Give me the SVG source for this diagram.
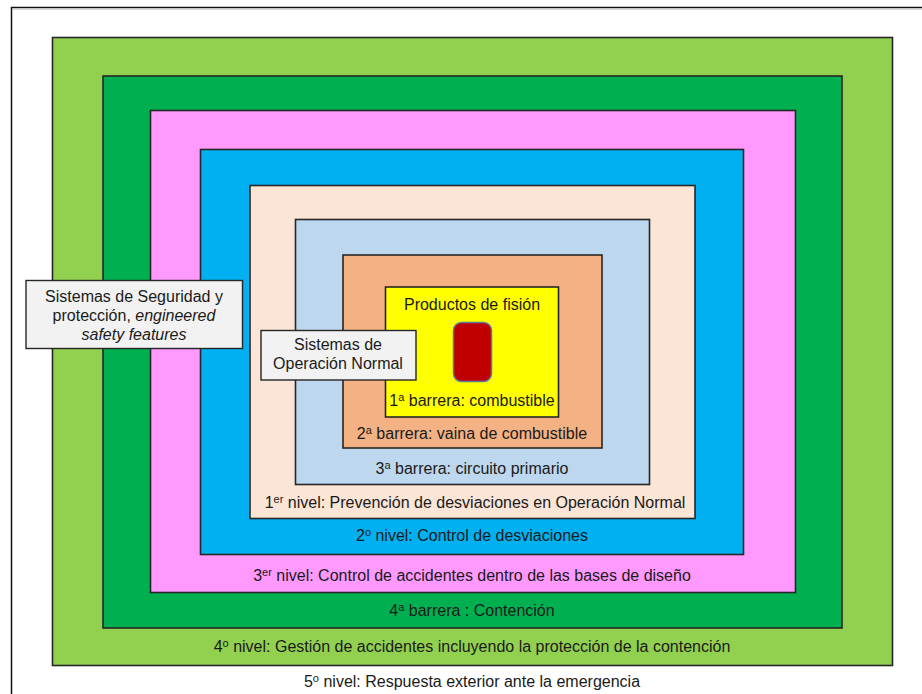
<svg xmlns="http://www.w3.org/2000/svg" width="922" height="694" viewBox="0 0 922 694">
  <style>
    .layer { stroke: #262626; stroke-width: 1.6; }
    .label { fill: #F2F2F2; stroke: #262626; stroke-width: 1.4; }
    text { font-family: "Liberation Sans", Arial, sans-serif; font-size: 16px; fill: #1a1a1a; }
    .c { text-anchor: middle; }
    .sup { font-size: 11px; }
  </style>
  <rect width="922" height="694" fill="#ffffff"/>

  <!-- outer frame -->
  <g id="frame" fill="none">
    <path d="M11.5 694 V7.5 H922" stroke="#111" stroke-width="1.5"/>
    <path d="M13 9.3 H922" stroke="#cfcfcf" stroke-width="1"/>
  </g>

  <!-- nested defence layers, outermost first -->
  <g id="nivel4">
    <rect class="layer" x="52.5" y="37.5" width="840" height="628" fill="#92D050"/>
  </g>
  <g id="barrera4">
    <rect class="layer" x="103" y="76" width="739" height="552" fill="#00B050"/>
  </g>
  <g id="nivel3">
    <rect class="layer" x="150.5" y="110.5" width="645" height="482" fill="#FF99FF"/>
  </g>
  <g id="nivel2">
    <rect class="layer" x="200.5" y="149.5" width="543" height="405" fill="#00B0F0"/>
  </g>
  <g id="nivel1">
    <rect class="layer" x="250" y="185.5" width="445" height="333" fill="#FBE5D6"/>
  </g>
  <g id="barrera3">
    <rect class="layer" x="295.5" y="219.5" width="354" height="265" fill="#BDD7EE"/>
  </g>
  <g id="barrera2">
    <rect class="layer" x="343" y="255" width="259" height="193" fill="#F4B183"/>
  </g>
  <g id="barrera1">
    <rect class="layer" x="385.5" y="287" width="173" height="130" fill="#FFFF00"/>
    <rect x="453.5" y="322.5" width="38" height="59" rx="8" fill="#C00000" stroke="#5B7A99" stroke-width="1.5"/>
    <text class="c" x="472" y="310">Productos de fisión</text>
    <text class="c" x="472" y="406">1<tspan class="sup" dy="-5">a</tspan><tspan dy="5"> barrera: combustible</tspan></text>
  </g>

  <!-- layer captions -->
  <g id="captions">
    <text class="c" x="472" y="439">2<tspan class="sup" dy="-5">a</tspan><tspan dy="5"> barrera: vaina de combustible</tspan></text>
    <text class="c" x="472" y="474">3<tspan class="sup" dy="-5">a</tspan><tspan dy="5"> barrera: circuito primario</tspan></text>
    <text class="c" x="475" y="508">1<tspan class="sup" dy="-5">er</tspan><tspan dy="5"> nivel: Prevención de desviaciones en Operación Normal</tspan></text>
    <text class="c" x="472" y="541">2<tspan class="sup" dy="-5">o</tspan><tspan dy="5"> nivel: Control de desviaciones</tspan></text>
    <text class="c" x="472" y="581">3<tspan class="sup" dy="-5">er</tspan><tspan dy="5"> nivel: Control de accidentes dentro de las bases de diseño</tspan></text>
    <text class="c" x="472" y="616">4<tspan class="sup" dy="-5">a</tspan><tspan dy="5"> barrera : Contención</tspan></text>
    <text class="c" x="472" y="652">4<tspan class="sup" dy="-5">o</tspan><tspan dy="5"> nivel: Gestión de accidentes incluyendo la protección de la contención</tspan></text>
    <text class="c" x="472" y="687">5<tspan class="sup" dy="-5">o</tspan><tspan dy="5"> nivel: Respuesta exterior ante la emergencia</tspan></text>
  </g>

  <!-- system labels -->
  <g id="sistemas-seguridad">
    <rect class="label" x="26" y="280.5" width="216.5" height="68"/>
    <text class="c" x="134" y="302">Sistemas de Seguridad y</text>
    <text class="c" x="134" y="321">protección, <tspan font-style="italic">engineered</tspan></text>
    <text class="c" x="134" y="340" font-style="italic">safety features</text>
  </g>
  <g id="sistemas-operacion">
    <rect class="label" x="261" y="330.5" width="155" height="49.5"/>
    <text class="c" x="338" y="350">Sistemas de</text>
    <text class="c" x="338" y="369">Operación Normal</text>
  </g>
</svg>
